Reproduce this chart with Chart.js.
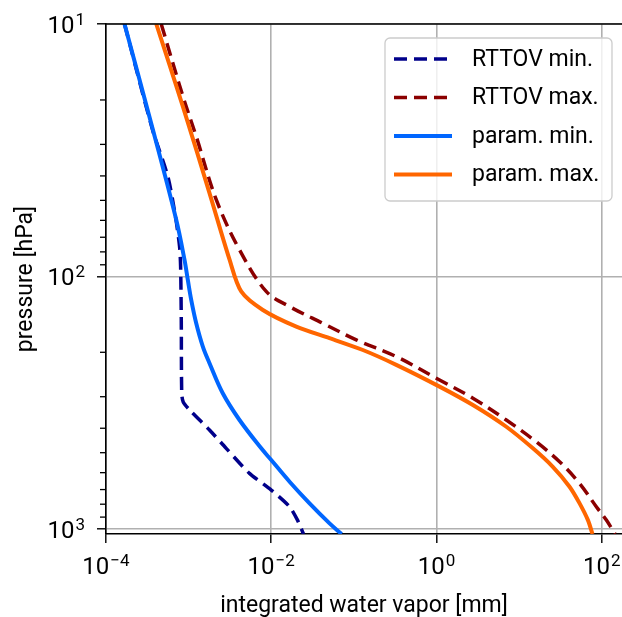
<!DOCTYPE html>
<html>
<head>
<meta charset="utf-8">
<script src="https://cdn.jsdelivr.net/npm/chart.js@4.4.1/dist/chart.umd.min.js"></script>
<style>
  html, body { margin: 0; padding: 0; background: #fff; }
  #wrap { position: relative; width: 622px; height: 617px; }
</style>
</head>
<body>
<div id="wrap"><canvas id="chart"></canvas></div>
<script>
// ---- data (x: integrated water vapor [mm], p: pressure [hPa]) ----
const rttovMinX = [1.675e-4, 3.65e-4, 5.6e-4, 6.93e-4, 7.77e-4, 8.0e-4, 8.15e-4, 8.25e-4, 8.6e-4, 1.03e-3, 1.79e-3, 2.85e-3, 5.46e-3, 1.0e-2, 1.667e-2, 2.08e-2, 2.46e-2];
const rttovMinP = [10, 26.2, 40.2, 57.9, 76.2, 91.4, 150, 290, 315, 338.8, 406.5, 480.6, 603.8, 703, 818.7, 925, 1050];

const rttovMaxX = [4.66e-4, 8.51e-4, 1.236e-3, 2.16e-3, 4.13e-3, 8.69e-3, 1.667e-2, 4.22e-2, 0.107, 0.326, 1.09, 2.76, 7.0, 16.1, 30.9, 54.0, 86.1, 113.8, 145];
const rttovMaxP = [10, 19.3, 27.9, 49.7, 78.5, 114.8, 131.8, 153.5, 178.6, 208.0, 257.6, 304, 371, 452.6, 543, 662, 818.7, 925, 1050];

const paramMinX = [1.675e-4, 3.69e-4, 7.08e-4, 8.92e-4, 9.78e-4, 1.075e-3, 1.236e-3, 1.486e-3, 1.79e-3, 2.59e-3, 4.13e-3, 7.57e-3, 1.0e-2, 1.667e-2, 2.91e-2, 5.08e-2, 7.1e-2];
const paramMinP = [10, 26.2, 59.7, 86.0, 103.3, 124, 153.5, 189.9, 221, 290.8, 371, 480.6, 534.6, 651.6, 794, 953, 1050];

const paramMaxX = [4.06e-4, 8.51e-4, 1.79e-3, 3.13e-3, 4.33e-3, 7.91e-3, 2.01e-2, 5.08e-2, 0.1285, 0.326, 1.09, 2.76, 7.0, 14.7, 25.6, 40.8, 54.0, 68.1, 77.3];
const paramMaxP = [10, 21.2, 46.8, 85.9, 114.8, 135.9, 158.2, 175.8, 195.9, 224.3, 273.6, 323.6, 394.6, 480.6, 568.9, 682, 794, 925, 1050];

const seriesNames = ['RTTOV min.', 'RTTOV max.', 'param. min.', 'param. max.'];
const xTicks = [1e-4, 1e-2, 1, 100];
const xTickExp = ['\u22124', '\u22122', '0', '2'];
const yTicks = [10, 100, 1000];
const yTickExp = ['1', '2', '3'];
const yMinorTicks = [20, 30, 40, 50, 60, 70, 80, 90, 200, 300, 400, 500, 600, 700, 800, 900];

const pts = (xs, ps) => xs.map((x, i) => ({ x, y: ps[i] }));

Chart.defaults.font.family = 'Roboto, "DejaVu Sans", sans-serif';
Chart.defaults.color = '#000';

const BASE_FONT = '24px Roboto';
const EXP_FONT = '17px Roboto';

// "10" with a raised exponent; anchor = 'right' or 'center'
function powLabel(ctx, exp, x, baseline, anchor) {
  ctx.font = BASE_FONT;
  const wb = ctx.measureText('10').width;
  ctx.font = EXP_FONT;
  const we = ctx.measureText(exp).width;
  const total = wb + 1 + we;
  const left = anchor === 'right' ? x - total : x - total / 2;
  ctx.font = BASE_FONT;
  ctx.fillText('10', left, baseline);
  ctx.font = EXP_FONT;
  ctx.fillText(exp, left + wb + 1, baseline - 8);
}

// top spine, minor ticks, tick labels, legend box
const decoPlugin = {
  id: 'deco',
  afterDraw(chart) {
    const { ctx, chartArea: a } = chart;
    const xs = chart.scales.x, ys = chart.scales.y;
    ctx.save();
    ctx.strokeStyle = '#000';
    ctx.lineWidth = 1.6;
    ctx.beginPath();
    ctx.moveTo(a.left - 0.8, a.top);
    ctx.lineTo(a.right, a.top);
    ctx.stroke();
    ctx.lineWidth = 1.3;
    yMinorTicks.forEach(v => {
      const py = ys.getPixelForValue(v);
      ctx.beginPath();
      ctx.moveTo(a.left - 6, py);
      ctx.lineTo(a.left, py);
      ctx.stroke();
    });

    ctx.fillStyle = '#000';
    ctx.textBaseline = 'alphabetic';
    ctx.textAlign = 'left';
    yTicks.forEach((v, i) => {
      powLabel(ctx, yTickExp[i], a.left - 21, ys.getPixelForValue(v) + 9, 'right');
    });
    xTicks.forEach((v, i) => {
      powLabel(ctx, xTickExp[i], xs.getPixelForValue(v), a.bottom + 40, 'center');
    });

    // legend
    const w = 227, h = 163;
    const x0 = a.right - w - 10, y0 = a.top + 14;
    ctx.beginPath();
    ctx.roundRect(x0, y0, w, h, 5);
    ctx.fillStyle = 'rgba(255,255,255,0.8)';
    ctx.fill();
    ctx.strokeStyle = '#cccccc';
    ctx.lineWidth = 1.3;
    ctx.stroke();
    ctx.font = '23px Roboto';
    ctx.textBaseline = 'middle';
    chart.data.datasets.forEach((ds, i) => {
      const cy = y0 + 21 + i * 38.5;
      ctx.beginPath();
      ctx.strokeStyle = ds.borderColor;
      ctx.lineWidth = ds.borderWidth;
      ctx.lineCap = 'butt';
      ctx.setLineDash(ds.borderDash || []);
      ctx.moveTo(x0 + 9, cy);
      ctx.lineTo(x0 + 67, cy);
      ctx.stroke();
      ctx.setLineDash([]);
      ctx.fillStyle = '#000';
      ctx.fillText(ds.label, x0 + 87, cy + 1);
    });
    ctx.restore();
  }
};

new Chart(document.getElementById('chart'), {
  type: 'scatter',
  data: {
    datasets: [
      { label: seriesNames[0], data: pts(rttovMinX, rttovMinP), borderColor: '#00008b', borderWidth: 3.5, borderDash: [13, 7], order: 1, tension: 0.25 },
      { label: seriesNames[1], data: pts(rttovMaxX, rttovMaxP), borderColor: '#8b0000', borderWidth: 3.5, borderDash: [13, 7], order: 1, tension: 0.35 },
      { label: seriesNames[2], data: pts(paramMinX, paramMinP), borderColor: '#0066ff', borderWidth: 4, order: 0, tension: 0.35 },
      { label: seriesNames[3], data: pts(paramMaxX, paramMaxP), borderColor: '#ff6600', borderWidth: 4, order: 0, tension: 0.3 }
    ].map(ds => Object.assign({ showLine: true, pointRadius: 0, fill: false, borderCapStyle: 'butt', borderJoinStyle: 'round' }, ds))
  },
  options: {
    responsive: true,
    maintainAspectRatio: false,
    animation: false,
    layout: { padding: { left: 0, right: 0, top: 24, bottom: 0 } },
    plugins: { legend: { display: false }, tooltip: { enabled: false } },
    scales: {
      x: {
        type: 'logarithmic',
        min: 1e-4,
        max: 176,
        afterBuildTicks: s => { s.ticks = xTicks.map(v => ({ value: v })); },
        afterFit: s => { s.height = 83; },
        ticks: { display: false, autoSkip: false },
        grid: { color: '#b0b0b0', lineWidth: 1.6, tickColor: '#000', tickLength: 9, tickWidth: 1.4 },
        border: { color: '#000', width: 1.6 },
        title: { display: true, text: 'integrated water vapor [mm]', font: { size: 23 }, padding: { top: 0, bottom: -3 } }
      },
      y: {
        type: 'logarithmic',
        reverse: true,
        min: 10,
        max: 1050,
        afterBuildTicks: s => { s.ticks = yTicks.map(v => ({ value: v })); },
        afterFit: s => { s.width = 106; },
        ticks: { display: false, autoSkip: false },
        grid: { color: '#b0b0b0', lineWidth: 1.6, tickColor: '#000', tickLength: 9, tickWidth: 1.4 },
        border: { color: '#000', width: 1.6 },
        title: { display: true, text: 'pressure [hPa]', font: { size: 23 }, padding: { top: 12, bottom: 0 } }
      }
    }
  },
  plugins: [decoPlugin]
});
</script>
</body>
</html>
